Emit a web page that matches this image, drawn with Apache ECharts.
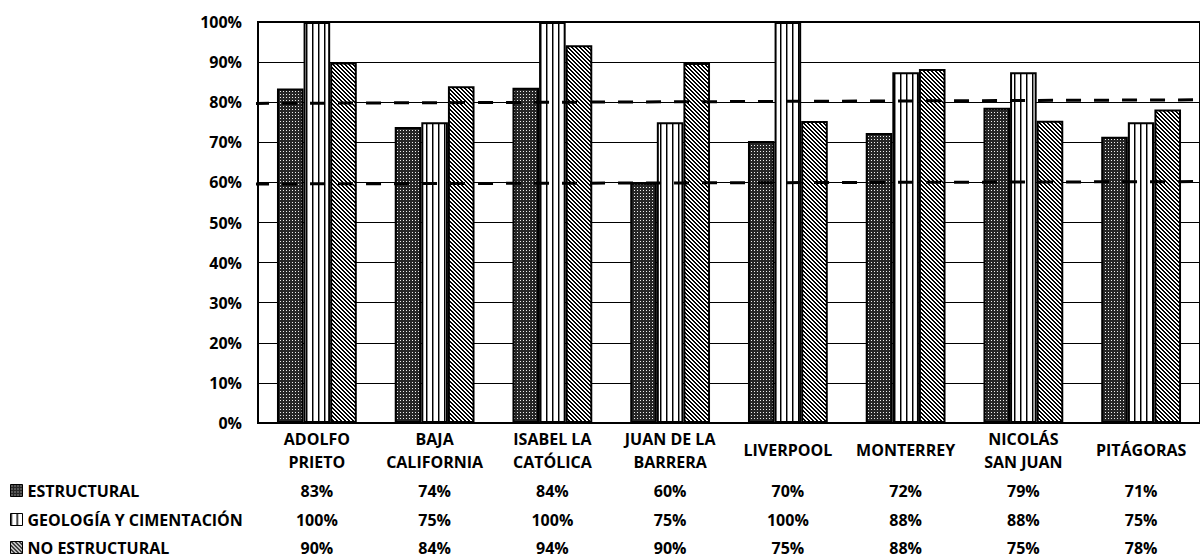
<!DOCTYPE html>
<html>
<head>
<meta charset="utf-8">
<script src="https://cdn.jsdelivr.net/npm/echarts@6/dist/echarts.min.js"></script>
<style>
  html, body { margin: 0; padding: 0; background: #fff; }
  #main { width: 1200px; height: 558px; }
</style>
</head>
<body>
<div id="main"></div>
<script>
// datos
var categorias = ['ADOLFO\nPRIETO', 'BAJA\nCALIFORNIA', 'ISABEL LA\nCATÓLICA', 'JUAN DE LA\nBARRERA',
  'LIVERPOOL', 'MONTERREY', 'NICOLÁS\nSAN JUAN', 'PITÁGORAS'];
var estructural = [83.4, 73.8, 83.6, 59.9, 70.3, 72.3, 78.6, 71.4];
var geologia = [100, 75, 100, 75, 100, 87.5, 87.5, 75];
var noEstructural = [89.9, 84.0, 94.2, 89.8, 75.3, 88.3, 75.4, 78.2];
var linea80 = [79.7, 80.6];
var linea60 = [59.6, 60.2];
var nombres = ['ESTRUCTURAL', 'GEOLOGÍA Y CIMENTACIÓN', 'NO ESTRUCTURAL'];

var fuente = 'Open Sans';
var filasY = [490.5, 519.5, 547.5];

function patron (w, h, dibujar) {
  var c = document.createElement('canvas');
  c.width = w;
  c.height = h;
  dibujar(c.getContext('2d'));
  return { image: c, repeat: 'repeat' };
}

var puntos = patron(3, 3, function (ctx) {
  ctx.fillStyle = '#262626';
  ctx.fillRect(0, 0, 3, 3);
  ctx.fillStyle = '#eeeeee';
  ctx.fillRect(1, 1, 1, 1);
});
var verticales = patron(6, 6, function (ctx) {
  ctx.fillStyle = '#fff';
  ctx.fillRect(0, 0, 6, 6);
  ctx.fillStyle = '#000';
  ctx.fillRect(0, 0, 1, 6);
  ctx.fillStyle = '#888';
  ctx.fillRect(1, 0, 1, 6);
});
var diagonales = patron(4, 4, function (ctx) {
  ctx.fillStyle = '#fff';
  ctx.fillRect(0, 0, 4, 4);
  ctx.fillStyle = '#000';
  for (var x = 0; x < 4; x++) {
    for (var y = 0; y < 4; y++) {
      if (((x - y) % 4 + 4) % 4 < 2) ctx.fillRect(x, y, 1, 1);
    }
  }
});

function pct (arr) {
  return arr.map(function (v) { return Math.round(v) + '%'; });
}

var textoNegrita = {
  color: '#000',
  fontFamily: fuente,
  fontWeight: 'bold',
  fontSize: 16
};

function filaTabla (valores, yCentro) {
  return {
    type: 'category',
    gridIndex: 0,
    position: 'bottom',
    offset: yCentro - 423,
    data: pct(valores),
    axisLine: { show: false },
    axisTick: { show: false },
    axisLabel: Object.assign({ interval: 0, margin: 0, verticalAlign: 'middle' }, textoNegrita)
  };
}

function leyenda (nombre, yCentro) {
  return {
    data: [nombre],
    left: 10,
    top: yCentro - 8,
    padding: 0,
    icon: 'rect',
    itemWidth: 12,
    itemHeight: 12,
    itemStyle: { borderColor: '#000', borderWidth: 1 },
    textStyle: Object.assign({ lineHeight: 16 }, textoNegrita)
  };
}

function barra (nombre, datos, color) {
  return {
    name: nombre,
    type: 'bar',
    data: datos,
    barWidth: 26.6,
    barGap: '0%',
    itemStyle: { color: color, borderColor: '#000', borderWidth: 2 }
  };
}

function linea (datos) {
  return {
    type: 'line',
    xAxisIndex: 4,
    data: [[-0.0042, datos[0]], [1, datos[1]]],
    symbol: 'none',
    clip: false,
    silent: true,
    z: 10,
    lineStyle: { color: '#000', width: 3, type: [15, 13] }
  };
}

var myChart = echarts.init(document.getElementById('main'), null, { renderer: 'svg' });
myChart.setOption({
  animation: false,
  backgroundColor: '#fff',
  grid: {
    left: 258,
    top: 22,
    width: 951,
    height: 401,
    show: true,
    borderColor: '#000',
    borderWidth: 2
  },
  legend: [
    leyenda(nombres[0], filasY[0]),
    leyenda(nombres[1], filasY[1]),
    leyenda(nombres[2], filasY[2])
  ],
  xAxis: [{
    type: 'category',
    data: categorias,
    axisLine: { lineStyle: { color: '#000', width: 2 } },
    axisTick: { show: false },
    axisLabel: Object.assign({
      interval: 0,
      margin: 27,
      verticalAlign: 'middle',
      lineHeight: 23
    }, textoNegrita)
  },
  filaTabla(estructural, filasY[0]),
  filaTabla(geologia, filasY[1]),
  filaTabla(noEstructural, filasY[2]),
  {
    type: 'value',
    min: 0,
    max: 1,
    show: false
  }],
  yAxis: {
    type: 'value',
    min: 0,
    max: 100,
    interval: 10,
    axisLine: { show: true, lineStyle: { color: '#000', width: 2 } },
    axisTick: { show: false },
    splitLine: { lineStyle: { color: '#000', width: 1 } },
    axisLabel: Object.assign({ formatter: '{value}%', margin: 16 }, textoNegrita)
  },
  series: [
    barra(nombres[0], estructural, puntos),
    barra(nombres[1], geologia, verticales),
    barra(nombres[2], noEstructural, diagonales),
    linea(linea80),
    linea(linea60)
  ]
});
</script>
</body>
</html>
